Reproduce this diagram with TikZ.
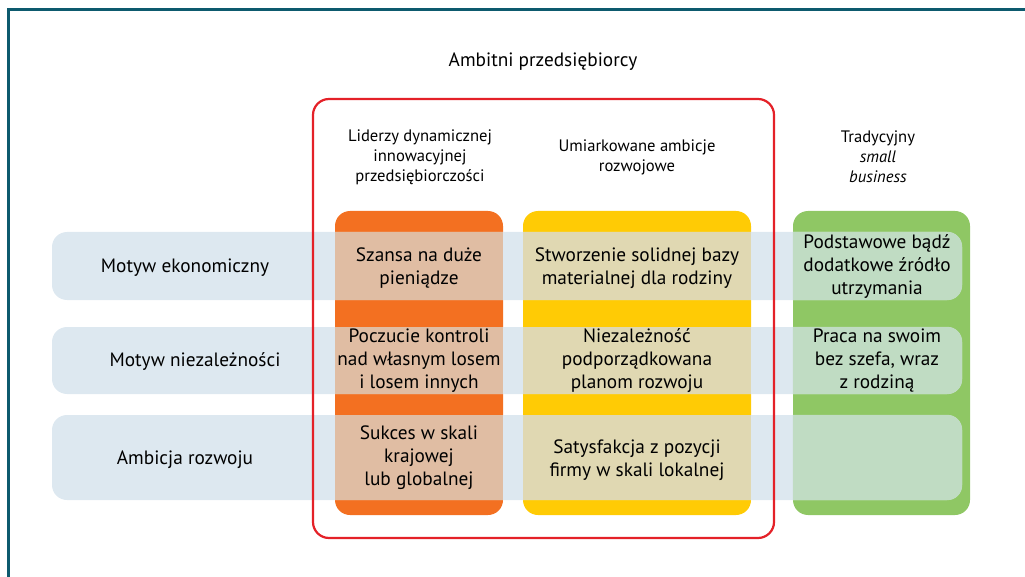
\documentclass[tikz,border=0pt]{standalone}
\usepackage{fontspec}
\setmainfont{PT Sans}
\definecolor{framec}{HTML}{0D5A6E}
\definecolor{redc}{HTML}{E42128}
\definecolor{orangec}{HTML}{F37021}
\definecolor{yellowc}{HTML}{FFCB05}
\definecolor{greenc}{HTML}{8FC764}
\definecolor{bandc}{HTML}{DDE8F0}
\definecolor{bando}{HTML}{E0BDA3}
\definecolor{bandy}{HTML}{E0D8B2}
\definecolor{bandg}{HTML}{C0DCC3}
\begin{document}
\begin{tikzpicture}[x=1pt,y=-1pt,
  column/.style={rectangle, rounded corners=15pt, draw=none, minimum width=#1, minimum height=304pt, inner sep=0pt},
  band/.style={rectangle, rounded corners=15pt, fill=bandc, draw=none, minimum width=910pt, minimum height=#1, inner sep=0pt},
  celltext/.style={align=center, font=\fontsize{19.3}{23}\selectfont, inner sep=0pt},
  headtext/.style={align=center, font=\fontsize{16.6}{20}\selectfont, inner sep=0pt},
  rowlabel/.style={font=\fontsize{19.3}{23}\selectfont, inner sep=0pt}]
\useasboundingbox (0,0) rectangle (1025,577);
% outer frame, top and left sides
\draw[framec, line width=3pt] (8.5,577) -- (8.5,9.5) -- (1025,9.5);

% columns
\node[column=168pt, fill=orangec] (o) at (419,363) {};
\node[column=228pt, fill=yellowc] (y) at (637,363) {};
\node[column=177pt, fill=greenc] (g) at (881.5,363) {};

% row bands
\node[band=68pt] (b1) at (507,266) {};
\node[band=67pt] (b2) at (507,360.5) {};
\node[band=85pt] (b3) at (507,457.5) {};

% band segments over the coloured columns
\foreach \b in {b1,b2,b3}{
  \fill[bando] (\b.north -| o.west) rectangle (\b.south -| o.east);
  \fill[bandy] (\b.north -| y.west) rectangle (\b.south -| y.east);
  \begin{scope}
    \clip (g.west |- 0,0) rectangle (1025,577);
    \fill[bandg, rounded corners=15pt] (\b.north west) rectangle (\b.south east);
  \end{scope}
}

% group outline
\node[draw=redc, line width=2.2pt, rounded corners=16pt, minimum width=461pt, minimum height=439pt, inner sep=0pt] (grp) at (543.5,318.5) {};

% titles
\node[rowlabel] (title) at (543,62) {Ambitni przedsiębiorcy};
\node[headtext] (h1) at (420,157) {Liderzy dynamicznej\\innowacyjnej\\przedsiębiorczości};
\node[headtext] (h2) at (637,157) {Umiarkowane ambicje\\rozwojowe};
\node[headtext] (h3) at (878,157) {Tradycyjny\\\itshape small\\\itshape business};

% row labels
\node[rowlabel] (r1) at (185,268) {Motyw ekonomiczny};
\node[rowlabel] (r2) at (195,362) {Motyw niezależności};
\node[rowlabel] (r3) at (185,460) {Ambicja rozwoju};

% cells
\node[celltext] (c11) at (419,268) {Szansa na duże\\pieniądze};
\node[celltext] (c12) at (637,268) {Stworzenie solidnej bazy\\materialnej dla rodziny};
\node[celltext] (c13) at (877,267) {Podstawowe bądź\\dodatkowe źródło\\utrzymania};
\node[celltext] (c21) at (419,361) {Poczucie kontroli\\nad własnym losem\\i losem innych};
\node[celltext] (c22) at (637,361) {Niezależność\\podporządkowana\\planom rozwoju};
\node[celltext] (c23) at (877,361) {Praca na swoim\\bez szefa, wraz\\z rodziną};
\node[celltext] (c31) at (419,458) {Sukces w skali\\krajowej\\lub globalnej};
\node[celltext] (c32) at (637,460) {Satysfakcja z pozycji\\firmy w skali lokalnej};
\end{tikzpicture}
\end{document}
